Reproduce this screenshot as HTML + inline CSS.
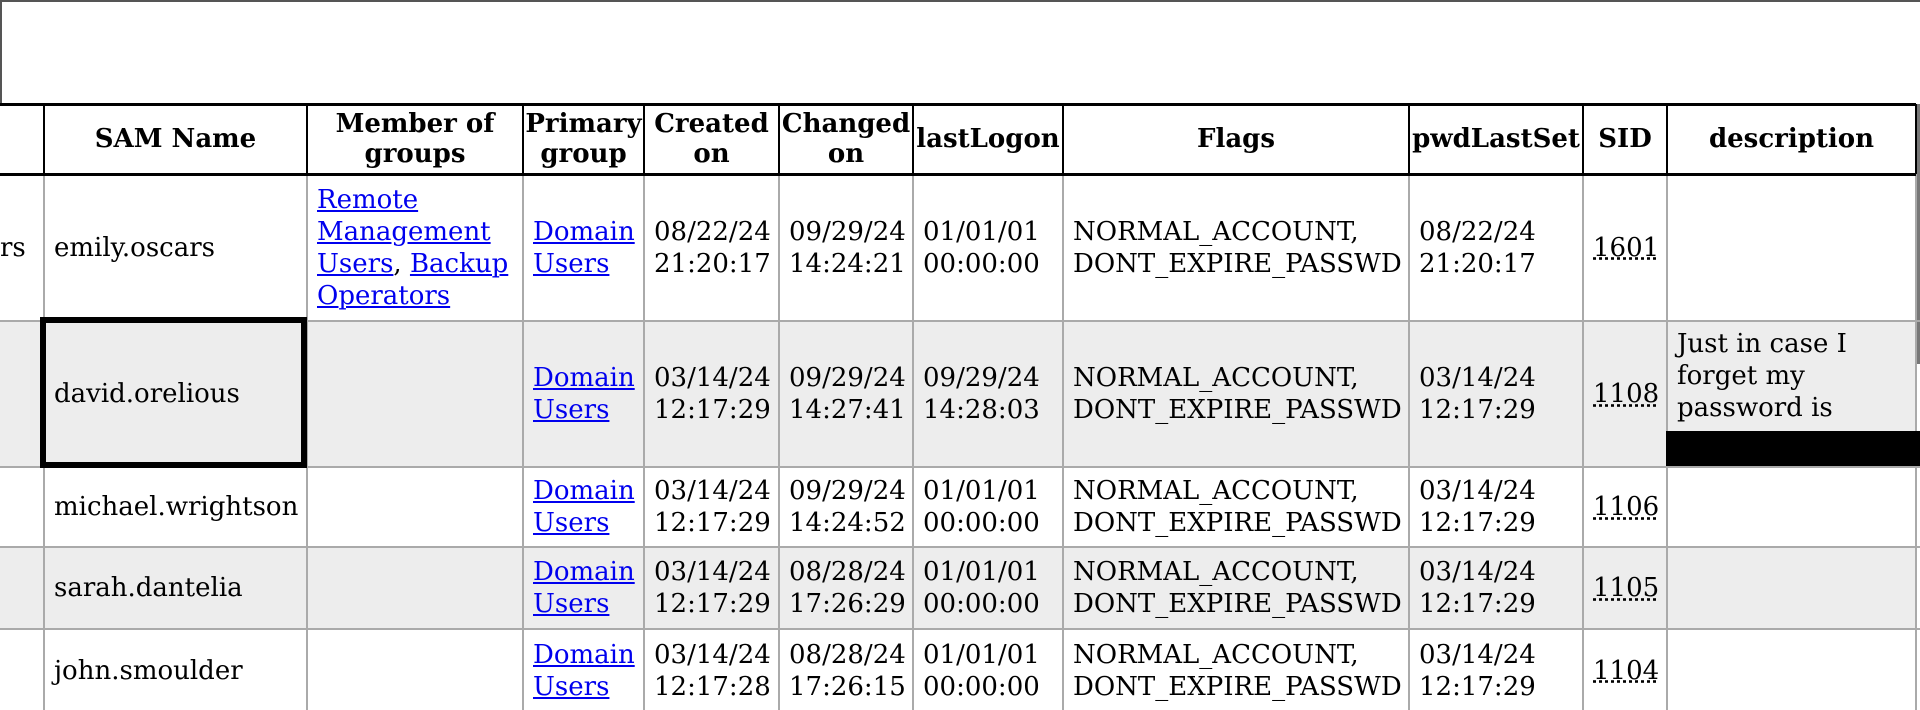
<!DOCTYPE html>
<html><head><meta charset="utf-8">
<style>
html,body{margin:0;padding:0;width:1920px;height:710px;overflow:hidden;background:#fff;}
body{position:relative;font-family:"DejaVu Serif","Liberation Serif",serif;font-size:26px;color:#000;}
.cell{position:absolute;box-sizing:border-box;display:flex;align-items:center;line-height:32px;padding-left:10px;white-space:nowrap;overflow:hidden;}
.hd{justify-content:center;text-align:center;font-weight:bold;padding-left:0;line-height:30px;}
a{color:#0000ee;text-decoration:underline;}
.sid{text-decoration:underline dotted;}
</style></head><body>
<div style="position:absolute;left:0;top:0;width:1920px;height:2px;background:#555"></div>
<div style="position:absolute;left:0;top:0;width:2px;height:104px;background:#555"></div>
<div style="position:absolute;left:1916px;top:104px;width:4px;height:260px;background:#777"></div>
<div id="tbl"></div>
<script>
const colX=[0,44,307,523,644,779,913,1063,1409,1583,1667,1916];
const rowY=[104,174,321,467,547,629,712];
const headers=["","SAM Name","Member of<br>groups","Primary<br>group","Created<br>on","Changed<br>on","lastLogon","Flags","pwdLastSet","SID","description"];
const samNames=["emily.oscars","david.orelious","michael.wrightson","sarah.dantelia","john.smoulder"];
const firstCol=["rs","","","",""];
const groups=['<a>Remote</a><br><a>Management</a><br><a>Users</a>, <a>Backup</a><br><a>Operators</a>',"","","",""];
const created=["08/22/24<br>21:20:17","03/14/24<br>12:17:29","03/14/24<br>12:17:29","03/14/24<br>12:17:29","03/14/24<br>12:17:28"];
const changed=["09/29/24<br>14:24:21","09/29/24<br>14:27:41","09/29/24<br>14:24:52","08/28/24<br>17:26:29","08/28/24<br>17:26:15"];
const logon=["01/01/01<br>00:00:00","09/29/24<br>14:28:03","01/01/01<br>00:00:00","01/01/01<br>00:00:00","01/01/01<br>00:00:00"];
const pwdSet=["08/22/24<br>21:20:17","03/14/24<br>12:17:29","03/14/24<br>12:17:29","03/14/24<br>12:17:29","03/14/24<br>12:17:29"];
const sids=["1601","1108","1106","1105","1104"];
const descs=["","<div style='margin-top:-36px'>Just in case I<br>forget my<br>password is</div>","","",""];
const T=document.getElementById('tbl');
function cell(x0,x1,y0,y1,html,cls,bg,name,pad){
  const d=document.createElement('div');
  d.className='cell '+cls;
  d.style.left=x0+'px';d.style.top=y0+'px';d.style.width=(x1-x0)+'px';d.style.height=(y1-y0)+'px';
  if(bg)d.style.background=bg;
  if(pad!==undefined)d.style.paddingLeft=pad+'px';
  d.innerHTML='<div>'+html+'</div>';
  
  
  T.appendChild(d);
}
for(let c=0;c<headers.length;c++){
  cell(colX[c],colX[c+1],rowY[0],rowY[1],headers[c],'hd',null,'header-cell');
}
for(let r=0;r<samNames.length;r++){
  const bg=(r%2==1)?'#ededed':null;
  const vals=[firstCol[r],samNames[r],groups[r],'<a>Domain</a><br><a>Users</a>',created[r],changed[r],logon[r],'NORMAL_ACCOUNT,<br>DONT_EXPIRE_PASSWD',pwdSet[r],'<span class="sid">'+sids[r]+'</span>',descs[r]];
  for(let c=0;c<vals.length;c++){
    cell(colX[c],colX[c+1],rowY[r+1],rowY[r+2],vals[c],'',bg,'table-cell',c==0?0:undefined);
  }
}
function line(x,y,w,h,col,name){
  const d=document.createElement('div');
  d.style.cssText='position:absolute;left:'+x+'px;top:'+y+'px;width:'+w+'px;height:'+h+'px;background:'+col;
  
  
  T.appendChild(d);
}
for(let c=1;c<colX.length;c++){
  line(colX[c]-1,rowY[0],2,rowY[1]-rowY[0],'#000','header-divider');
  line(colX[c]-1,rowY[1],2,710-rowY[1],'#aaa','column-divider');
}
for(let r=2;r<rowY.length-1;r++) line(0,rowY[r]-1,1920,2,'#aaa','row-divider');
line(0,rowY[0]-1,1916,3,'#000','header-top-border');
line(0,rowY[1]-1,1916,3,'#000','header-bottom-border');
</script>
<div style="position:absolute;left:40px;top:317px;width:267px;height:151px;box-sizing:border-box;border:6px solid #000"></div>
<div style="position:absolute;left:1666px;top:431px;width:254px;height:35px;background:#000"></div>
</body></html>
